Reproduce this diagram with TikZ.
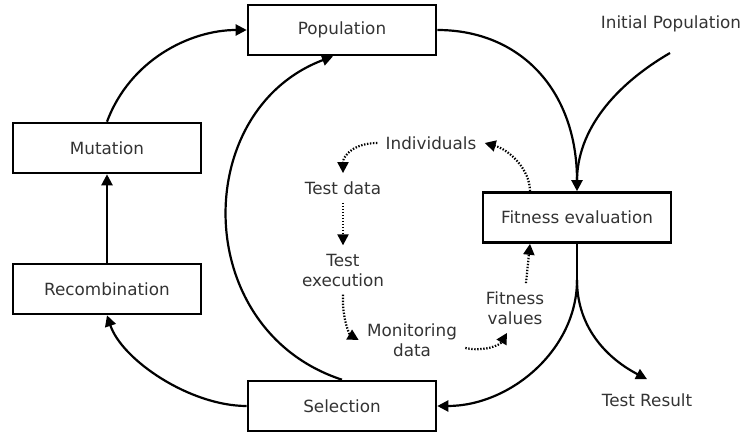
\documentclass[tikz,border=0pt]{standalone}
\usepackage{fontspec}
\setmainfont{DejaVu Sans}
\usetikzlibrary{arrows.meta}
\begin{document}
\begin{tikzpicture}[x=0.5pt,y=0.5pt,
  every node/.style={font=\fontsize{8.4pt}{10pt}\selectfont, text=black!80},
  stage/.style={draw=black, line width=1.3pt, minimum width=94pt, minimum height=25pt, inner sep=0pt},
  lbl/.style={align=center, inner sep=4pt},
  flow/.style={line width=1.1pt, -{Triangle[length=5.5pt,width=5.5pt]}},
  plain/.style={line width=1.1pt},
  data/.style={line width=1.1pt, dash pattern=on 0.7pt off 0.8pt, -{Triangle[length=5.5pt,width=5.5pt]}}]
\useasboundingbox (0,0) rectangle (744,-432);

% stages of the evolutionary loop
\node[stage] (pop) at (342,-30) {Population};
\node[stage] (mut) at (107,-148) {Mutation};
\node[stage] (rec) at (107,-289) {Recombination};
\node[stage] (sel) at (342,-406) {Selection};
\node[stage] (fit) at (577,-217.5) {Fitness evaluation};

% free labels
\node[lbl] (init) at (671,-24) {Initial Population};
\node[lbl, inner sep=7pt] (res) at (647,-400) {Test Result};
\node[lbl] (ind) at (431,-143) {Individuals};
\node[lbl] (td) at (343,-188) {Test data};
\node[lbl] (te) at (343,-270) {Test\\execution};
\node[lbl] (mon) at (412,-340) {Monitoring\\data};
\node[lbl] (fv) at (515,-308) {Fitness\\values};

\coordinate (ipstart) at (670,-53);
\coordinate (split) at (577,-280);

% main cycle
\draw[flow] (mut.north) .. controls (130,-60) and (190,-30) .. (pop.west);
\draw[flow] (rec.north) -- (mut.south);
\draw[flow] (sel.west) .. controls (190,-406) and (122,-360) .. (rec.south);
\draw[flow] (sel.north) .. controls (190,-330) and (190,-110) .. ([xshift=-4.5pt]pop.south);
\draw[flow] (pop.east) .. controls (520,-30) and (577,-90) .. (fit.north);
\draw[plain] (ipstart) .. controls (615,-85) and (577,-130) .. ([yshift=5pt]fit.north);
\draw[plain] (fit.south) -- (split);
\draw[flow] (split) .. controls (577,-350) and (510,-406) .. (sel.east);
\draw[flow] (split) .. controls (577,-330) and (610,-360) .. (res.north);

% test data flow inside the cycle
\draw[data] (ind.west) .. controls (355,-143) and (343,-155) .. (td.north);
\draw[data] (td.south) -- (te.north);
\draw[data] (te.south) .. controls (342,-320) and (350,-335) .. (mon.west);
\draw[data] ([yshift=-4pt]mon.east) .. controls (485,-352) and (500,-345) .. ([xshift=-4pt]fv.south);
\draw[data] ([xshift=5.5pt]fv.north) -- ([xshift=-23.5pt]fit.south);
\draw[data] ([xshift=-23.5pt]fit.north) .. controls (530,-170) and (510,-150) .. (ind.east);
\end{tikzpicture}
\end{document}
